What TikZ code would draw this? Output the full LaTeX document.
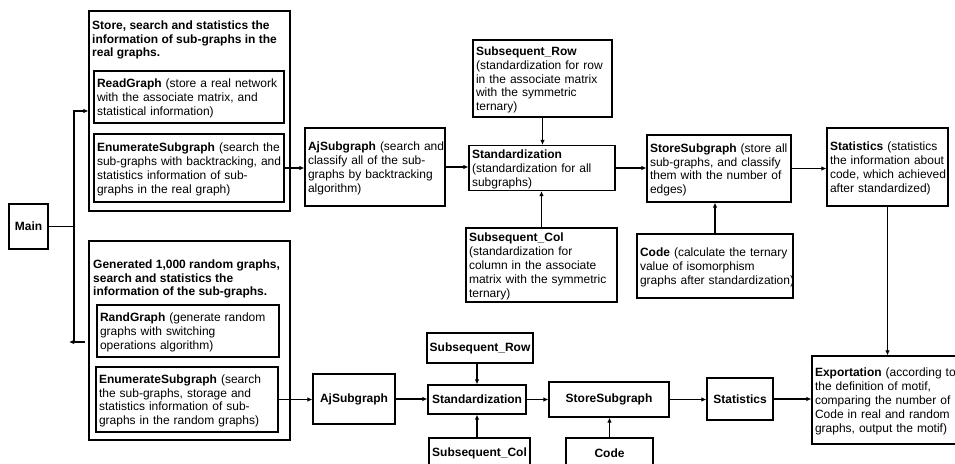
\documentclass[tikz,border=0pt]{standalone}
\usepackage{fontspec}
\setmainfont{Liberation Sans}
\usetikzlibrary{arrows.meta}
\newcommand{\lns}[1]{\begin{tabular}{@{}l@{}}\noalign{\vskip3.5pt}#1\end{tabular}}
\tikzset{
  bx/.style={draw, line width=1.2pt, rectangle, inner xsep=3pt, inner ysep=0pt, align=left, font=\fontsize{12}{13.8}\selectfont},
  cbx/.style={draw, line width=1.2pt, rectangle, inner sep=0pt, align=center, font=\fontsize{12}{13.8}\selectfont\bfseries},
  arr/.style={line width=1.2pt, -{Latex[length=5pt,width=4.5pt]}},
  ln/.style={line width=1.2pt},
  ttl/.style={inner sep=0pt, anchor=north west, align=left, font=\fontsize{12}{13.8}\selectfont\bfseries}
}
\begin{document}
\begin{tikzpicture}[x=1pt,y=-1pt]
\useasboundingbox (0,0) rectangle (955,463);
\fill[white] (0,0) rectangle (955,463);
\clip (0,0) rectangle (955,463);

% left part
\node[cbx, minimum width=39pt, minimum height=45pt] (main) at (28.5,226.5) {Main};
\node[draw, line width=1.2pt, minimum width=201pt, minimum height=200pt, inner sep=0pt] (outer1) at (189.5,111) {};
\node[ttl] (t1) at (92,20.5) {Store, search and statistics the\\information of sub-graphs in the\\real graphs.};
\node[bx, minimum width=190pt, minimum height=52pt, text width=184pt] (read) at (189,97) {\lns{\textbf{ReadGraph} (store a real network\\with the associate matrix, and\\statistical information)}};
\node[bx, minimum width=190pt, minimum height=68pt, text width=184pt] (enum1) at (189,168) {\lns{\textbf{EnumerateSubgraph} (search the\\sub-graphs with backtracking, and\\statistics information of sub-\\graphs in the real graph)}};

\node[draw, line width=1.2pt, minimum width=201pt, minimum height=199pt, inner sep=0pt] (outer2) at (189.5,340.5) {};
\node[ttl] (t2) at (93,259.5) {Generated 1,000 random graphs,\\search and statistics the\\information of the sub-graphs.};
\node[bx, minimum width=182pt, minimum height=52pt, text width=176pt] (rand) at (188,331) {\lns{\textbf{RandGraph} (generate random\\graphs with switching\\operations algorithm)}};
\node[bx, minimum width=182pt, minimum height=65pt, text width=176pt] (enum2) at (187,399.5) {\lns{\textbf{EnumerateSubgraph} (search\\the sub-graphs, storage and\\statistics information of sub-\\graphs in the random graphs)}};

% top row
\node[bx, minimum width=140pt, minimum height=78pt, text width=134pt] (aj1) at (375,167) {\lns{\textbf{AjSubgraph} (search and\\classify all of the sub-\\graphs by backtracking\\algorithm)}};
\node[bx, minimum width=146pt, minimum height=44pt, text width=140pt] (std1) at (542,168) {\lns{\textbf{Standardization}\\(standardization for all\\subgraphs)}};
\node[bx, minimum width=139pt, minimum height=77pt, text width=133pt] (row1) at (542.5,78.5) {\lns{\textbf{Subsequent\_Row}\\(standardization for row\\in the associate matrix\\with the symmetric\\ternary)}};
\node[bx, minimum width=151pt, minimum height=74pt, text width=145pt] (col1) at (541.5,265) {\lns{\textbf{Subsequent\_Col}\\(standardization for\\column in the associate\\matrix with the symmetric\\ternary)}};
\node[bx, minimum width=144pt, minimum height=67pt, text width=138pt] (store1) at (719,168.5) {\lns{\textbf{StoreSubgraph} (store all\\sub-graphs, and classify\\them with the number of\\edges)}};
\node[bx, minimum width=121pt, minimum height=78pt, text width=115pt] (stat1) at (887.5,167) {\lns{\textbf{Statistics} (statistics\\the information about\\code, which achieved\\after standardized)}};
\node[bx, minimum width=156pt, minimum height=64pt, text width=150pt] (code1) at (715,266) {\lns{\textbf{Code} (calculate the ternary\\value of isomorphism\\graphs after standardization)}};
\node[bx, minimum width=155pt, minimum height=88pt, text width=149pt] (expo) at (889.5,400) {\lns{\textbf{Exportation} (according to\\the definition of motif,\\comparing the number of\\Code in real and random\\graphs, output the motif)}};

% bottom row
\node[cbx, minimum width=82pt, minimum height=50pt] (aj2) at (354,399) {AjSubgraph};
\node[cbx, minimum width=98pt, minimum height=29pt] (std2) at (477,399.5) {Standardization};
\node[cbx, minimum width=106pt, minimum height=30pt] (row2) at (480,348) {Subsequent\_Row};
\node[cbx, minimum width=101pt, minimum height=30pt] (col2) at (479.5,453) {Subsequent\_Col};
\node[cbx, minimum width=120pt, minimum height=35pt] (store2) at (609,399.5) {StoreSubgraph};
\node[cbx, minimum width=87pt, minimum height=30pt] (code2) at (609.5,453) {Code};
\node[cbx, minimum width=66pt, minimum height=42pt] (stat2) at (740,399) {Statistics};

% main connectors
\coordinate (jn) at (74,226.5);
\coordinate (bj) at (74,342);
\coordinate (bs) at (85,342);
\coordinate (bt) at (69,342);
\draw[arr] (main.east) -- (jn) |- (outer1.west);
\draw[ln] (jn) -- (bj);
\draw[arr] (bs) -- (bt);

% top connectors
\draw[arr] (enum1.east) -- (enum1.east -| aj1.west);
\draw[arr] (aj1.east) -- (aj1.east -| std1.west);
\draw[arr] (std1.east) -- (std1.east -| store1.west);
\draw[arr] (store1.east) -- (store1.east -| stat1.west);
\draw[arr] (row1.south) -- (row1.south |- std1.north);
\draw[arr] (col1.north) -- (col1.north |- std1.south);
\draw[arr] (code1.north) -- (code1.north |- store1.south);
\draw[arr] (stat1.south) -- (stat1.south |- expo.north);

% bottom connectors
\draw[arr] (enum2.east) -- (enum2.east -| aj2.west);
\draw[arr] (aj2.east) -- (aj2.east -| std2.west);
\draw[arr] (std2.east) -- (std2.east -| store2.west);
\draw[arr] (store2.east) -- (store2.east -| stat2.west);
\draw[arr] (stat2.east) -- (stat2.east -| expo.west);
\draw[arr] (row2.south -| std2.north) -- (std2.north);
\draw[arr] (col2.north -| std2.south) -- (std2.south);
\draw[arr] (code2.north) -- (code2.north |- store2.south);
\end{tikzpicture}
\end{document}
